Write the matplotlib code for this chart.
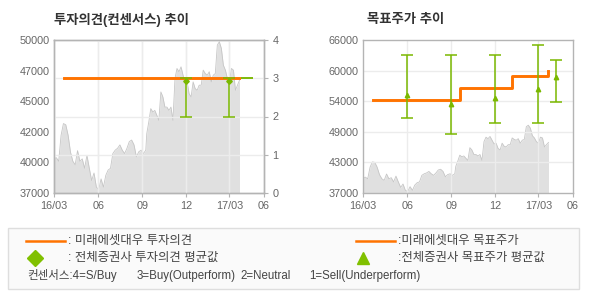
import matplotlib
matplotlib.use("Agg")
import matplotlib.pyplot as plt
from matplotlib.lines import Line2D
from matplotlib.patches import Rectangle
import numpy as np
import pandas as pd

plt.rcParams['font.family'] = ['Liberation Sans', 'Noto Sans CJK KR']

# 주가 (그림에서 읽은 값, 두 구간)
price_a = [39910, 40000, 39700, 41900, 42900, 42800, 41900, 40480, 39700, 39400,
           40600, 39700, 39900, 39100, 40200, 39100, 38060, 38700, 37500, 37300,
           38200, 37500, 38500, 38950, 39100, 40350, 40640, 40800, 41090, 40640,
           40350, 40800, 41370, 41500, 41090, 40070, 40500, 40640, 40350, 40640]
price_a_span = ('2016-03-01', '2016-09-08')
price_b = [42040, 43030, 44170, 43880, 44020, 43600, 43170, 45590, 45160, 44300,
           44300, 44020, 44300, 43170, 46730, 47580, 47300, 47720, 47010, 46300,
           46440, 45440, 45160, 46440, 45870, 45730, 46160, 46160, 47440, 47150,
           47010, 47300, 46440, 47010, 47150, 49570, 49850, 49290, 47860, 47440,
           46730, 46440, 47580, 47440, 45730, 46160, 46580]
price_b_span = ('2016-09-10', '2017-03-22')

# 미래에셋대우 투자의견 / 목표주가
mirae_dates = ['2016-03-21', '2016-09-19', '2017-01-05', '2017-03-20']
mirae_opinion = [3, 3, 3, 3]
mirae_target = [54650, 56980, 59130, 60140]

# 전체증권사 투자의견 (평균, 최저, 최고)
cons_dates = ['2016-12-01', '2017-03-01', '2017-04-06']
cons_mean = [2.93, 2.93, 3.0]
cons_low = [2, 2, 3]
cons_high = [3, 3, 3]

# 전체증권사 목표주가 (평균, 최저, 최고)
tp_dates = ['2016-06-01', '2016-09-01', '2016-12-01', '2017-03-01', '2017-04-06']
tp_mean = [55500, 53800, 55100, 56800, 58900]
tp_low = [51200, 48200, 50300, 50300, 54300]
tp_high = [63100, 63100, 63100, 65000, 62200]

xtick_dates = ['2016-03-01', '2016-06-01', '2016-09-01', '2016-12-01', '2017-03-01', '2017-05-12']
xtick_labels = ['16/03', '06', '09', '12', '17/03', '06']
left_ylabels = ['37000', '40000', '42000', '45000', '47000', '50000']
right_ylabels = ['37000', '43000', '49000', '54000', '60000', '66000']

ORANGE = '#ff7300'
GREEN = '#7ab800'
AREA = '#e0e0e0'
AREA_EDGE = '#c6c6c6'
GRID = '#ececec'
SPINE = '#b4b4b4'
TXT = '#666666'

pdates = pd.date_range(*price_a_span, periods=len(price_a)).append(
    pd.date_range(*price_b_span, periods=len(price_b)))
price = price_a + price_b
xt = pd.to_datetime(xtick_dates)


def style_axis(ax):
    for s in ax.spines.values():
        s.set_color(SPINE)
        s.set_linewidth(1.0)
    ax.tick_params(colors=SPINE, labelcolor=TXT, labelsize=7.8, length=3, width=0.8)
    ax.set_xlim(xt[0], xt[-1])
    ax.set_xticks(xt)
    ax.set_xticklabels(xtick_labels)
    ax.tick_params(axis='x', pad=3)
    for d in xt[1:-1]:
        ax.axvline(d, color=GRID, lw=1.0, zorder=1.5)


def draw_errorbars(ax, dates, mean, low, high, marker, ms):
    d = pd.to_datetime(dates)
    mean, low, high = map(np.array, (mean, low, high))
    ax.errorbar(d, mean, yerr=[mean - low, high - mean], fmt='none',
                ecolor=GREEN, elinewidth=1.1, capsize=4.5, capthick=1.1, zorder=4)
    has_range = high > low
    ax.plot(d[has_range], mean[has_range], marker, ms=ms, color=GREEN, lw=0, zorder=5)


fig = plt.figure(figsize=(5.9, 3.0), dpi=100)

# ---- 투자의견 추이
ax1 = fig.add_axes([54 / 590, 1 - 193 / 300, 210 / 590, 153 / 300])
ax1.fill_between(pdates, price, 37000, color=AREA, lw=0, zorder=1)
ax1.plot(pdates, price, color=AREA_EDGE, lw=0.6, zorder=1.2)
ax1.set_ylim(37000, 50000)
ax1.set_yticks(np.linspace(37000, 50000, 6))
ax1.set_yticklabels(left_ylabels)
style_axis(ax1)
ax1.tick_params(axis='y', length=0, pad=3)

ax1b = ax1.twinx()
ax1b.set_ylim(0, 4)
ax1b.set_yticks([0, 1, 2, 3, 4])
for v in [1, 2, 3]:
    ax1b.axhline(v, color=GRID, lw=1.0, zorder=1)
ax1b.plot(pd.to_datetime(mirae_dates), mirae_opinion, color=ORANGE, lw=2.1, zorder=3)
draw_errorbars(ax1b, cons_dates, cons_mean, cons_low, cons_high, 'D', 2.8)
style_axis(ax1b)
ax1b.tick_params(axis='y', pad=3)

fig.text(54 / 590, 1 - 20 / 300, '투자의견(컨센서스) 추이', fontsize=9.6, fontweight='bold',
         color='#333333', va='center', ha='left')

# ---- 목표주가 추이
ax2 = fig.add_axes([363 / 590, 1 - 193 / 300, 210 / 590, 153 / 300])
ax2.fill_between(pdates, price, 37000, color=AREA, lw=0, zorder=1)
ax2.plot(pdates, price, color=AREA_EDGE, lw=0.6, zorder=1.2)
ax2.set_ylim(37000, 66000)
yt2 = np.linspace(37000, 66000, 6)
ax2.set_yticks(yt2)
ax2.set_yticklabels(right_ylabels)
for v in yt2[1:-1]:
    ax2.axhline(v, color=GRID, lw=1.0, zorder=1.5)
style_axis(ax2)
ax2.tick_params(axis='y', length=0, pad=3)
ax2.plot(pd.to_datetime(mirae_dates), mirae_target, color=ORANGE, lw=2.1,
         drawstyle='steps-post', zorder=3)
draw_errorbars(ax2, tp_dates, tp_mean, tp_low, tp_high, '^', 3.2)

fig.text(367 / 590, 1 - 20 / 300, '목표주가 추이', fontsize=9.6, fontweight='bold',
         color='#333333', va='center', ha='left')

# ---- 범례 상자
fig.patches.append(Rectangle((8 / 590, 1 - 289 / 300), 571 / 590, 61 / 300,
                             transform=fig.transFigure, facecolor='#fafafa',
                             edgecolor='#dedede', lw=1.0, zorder=0))
r1, r2, r3 = 1 - 240.7 / 300, 1 - 258 / 300, 1 - 276 / 300
lt = dict(fontsize=8.3, color='#444444', va='center', ha='left')
lk = dict(lt, fontsize=8.9)
fig.lines.append(Line2D([26 / 590, 65 / 590], [r1, r1], transform=fig.transFigure,
                        color=ORANGE, lw=1.8))
fig.text(68 / 590, r1, ': 미래에셋대우 투자의견', **lk)
fig.lines.append(Line2D([35 / 590], [r2], transform=fig.transFigure, marker='D',
                        ms=8, color='#80c000', lw=0))
fig.text(68 / 590, r2, ': 전체증권사 투자의견 평균값', **lk)
fig.lines.append(Line2D([356 / 590, 395 / 590], [r1, r1], transform=fig.transFigure,
                        color=ORANGE, lw=1.8))
fig.text(398 / 590, r1, ':미래에셋대우 목표주가', **lk)
fig.lines.append(Line2D([362.7 / 590], [r2], transform=fig.transFigure, marker='^',
                        ms=8, color='#80c000', lw=0))
fig.text(398 / 590, r2, ':전체증권사 목표주가 평균값', **lk)
fig.text(27 / 590, r3, '컨센서스:4=S/Buy', **lt)
fig.text(137 / 590, r3, '3=Buy(Outperform)', **lt)
fig.text(240.7 / 590, r3, '2=Neutral', **lt)
fig.text(309 / 590, r3, '1=Sell(Underperform)', **lt)

fig.savefig('out.png', dpi=100)
